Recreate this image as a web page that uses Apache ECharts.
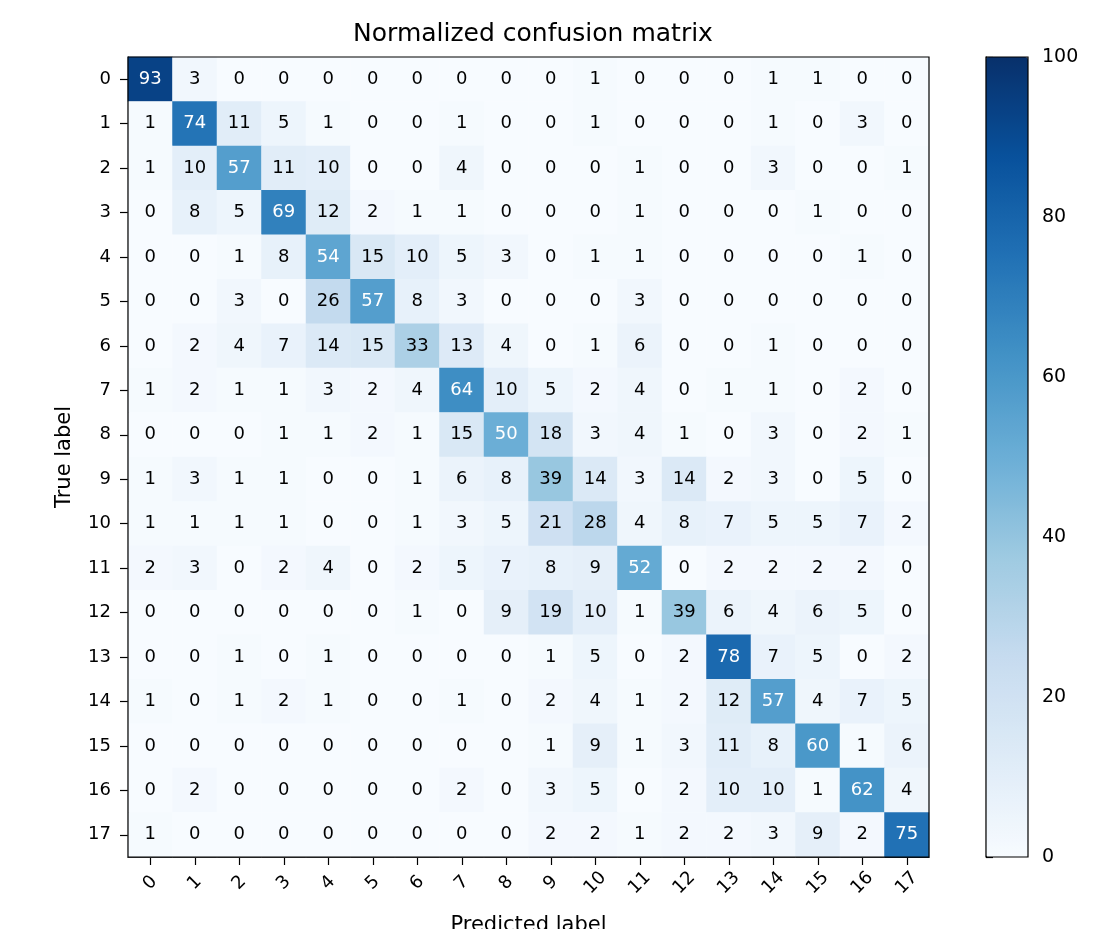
<!DOCTYPE html>
<html>
<head>
<meta charset="utf-8">
<script src="https://cdn.jsdelivr.net/npm/echarts@6/dist/echarts.min.js"></script>
<style>
    html, body { margin: 0; padding: 0; background: #fff; }
    #chart { width: 1106px; height: 929px; }
</style>
</head>
<body>
<div id="chart"></div>
<script>
(function () {
    "use strict";

    // ---- data ----
    const predictedLabels = ["0", "1", "2", "3", "4", "5", "6", "7", "8", "9", "10", "11", "12", "13", "14", "15", "16", "17"];
    const trueLabels = ["0", "1", "2", "3", "4", "5", "6", "7", "8", "9", "10", "11", "12", "13", "14", "15", "16", "17"];
    const matrix = [
        [93, 3, 0, 0, 0, 0, 0, 0, 0, 0, 1, 0, 0, 0, 1, 1, 0, 0],
        [1, 74, 11, 5, 1, 0, 0, 1, 0, 0, 1, 0, 0, 0, 1, 0, 3, 0],
        [1, 10, 57, 11, 10, 0, 0, 4, 0, 0, 0, 1, 0, 0, 3, 0, 0, 1],
        [0, 8, 5, 69, 12, 2, 1, 1, 0, 0, 0, 1, 0, 0, 0, 1, 0, 0],
        [0, 0, 1, 8, 54, 15, 10, 5, 3, 0, 1, 1, 0, 0, 0, 0, 1, 0],
        [0, 0, 3, 0, 26, 57, 8, 3, 0, 0, 0, 3, 0, 0, 0, 0, 0, 0],
        [0, 2, 4, 7, 14, 15, 33, 13, 4, 0, 1, 6, 0, 0, 1, 0, 0, 0],
        [1, 2, 1, 1, 3, 2, 4, 64, 10, 5, 2, 4, 0, 1, 1, 0, 2, 0],
        [0, 0, 0, 1, 1, 2, 1, 15, 50, 18, 3, 4, 1, 0, 3, 0, 2, 1],
        [1, 3, 1, 1, 0, 0, 1, 6, 8, 39, 14, 3, 14, 2, 3, 0, 5, 0],
        [1, 1, 1, 1, 0, 0, 1, 3, 5, 21, 28, 4, 8, 7, 5, 5, 7, 2],
        [2, 3, 0, 2, 4, 0, 2, 5, 7, 8, 9, 52, 0, 2, 2, 2, 2, 0],
        [0, 0, 0, 0, 0, 0, 1, 0, 9, 19, 10, 1, 39, 6, 4, 6, 5, 0],
        [0, 0, 1, 0, 1, 0, 0, 0, 0, 1, 5, 0, 2, 78, 7, 5, 0, 2],
        [1, 0, 1, 2, 1, 0, 0, 1, 0, 2, 4, 1, 2, 12, 57, 4, 7, 5],
        [0, 0, 0, 0, 0, 0, 0, 0, 0, 1, 9, 1, 3, 11, 8, 60, 1, 6],
        [0, 2, 0, 0, 0, 0, 0, 2, 0, 3, 5, 0, 2, 10, 10, 1, 62, 4],
        [1, 0, 0, 0, 0, 0, 0, 0, 0, 2, 2, 1, 2, 2, 3, 9, 2, 75]
    ];
    const colorbarTicks = [0, 20, 40, 60, 80, 100];
    const blues = ["#f7fbff", "#deebf7", "#c6dbef", "#9ecae1", "#6baed6", "#4292c6", "#2171b5", "#08519c", "#08306b"];

    const FONT = "DejaVu Sans";
    const el = document.getElementById("chart");
    const chart = echarts.init(el, null, { renderer: "canvas" });

    // text turns white above half of the largest cell (matplotlib habit)
    const maxVal = Math.max(...matrix.map(r => Math.max(...r)));
    const thresh = maxVal / 2;

    const cells = [];
    matrix.forEach((row, yi) => {
        row.forEach((v, xi) => {
            cells.push({
                value: [xi, yi, v],
                label: { color: v > thresh ? "#ffffff" : "#000000" }
            });
        });
    });

    const tickMin = colorbarTicks[0];
    const tickMax = colorbarTicks[colorbarTicks.length - 1];
    const tickStep = colorbarTicks[1] - colorbarTicks[0];
    const black = { color: "#000", width: 1.2 };

    chart.setOption({
        animation: false,
        backgroundColor: "#ffffff",
        textStyle: { fontFamily: FONT },
        title: {
            text: "Normalized confusion matrix",
            left: 528, top: 17, textAlign: "center",
            textStyle: { fontFamily: FONT, fontSize: 25, fontWeight: "normal", color: "#000" }
        },
        grid: [
            { left: 128, top: 57, width: 801, height: 800, outerBoundsMode: "none", containLabel: false, show: true, borderColor: "#000", borderWidth: 1.2, backgroundColor: "transparent", z: 5 },
            { left: 986, top: 57, width: 42, height: 800, outerBoundsMode: "none", containLabel: false, show: true, borderColor: "#000", borderWidth: 1.2, backgroundColor: "transparent", z: 5 }
        ],
        xAxis: [
            {
                type: "category", gridIndex: 0, data: predictedLabels, position: "bottom",
                name: "Predicted label", nameLocation: "middle", nameGap: 58,
                nameTextStyle: { fontFamily: FONT, fontSize: 21, color: "#000" },
                axisLine: { show: true, lineStyle: black },
                axisTick: { show: true, alignWithLabel: true, length: 8, lineStyle: black },
                axisLabel: { rotate: 45, align: "center", verticalAlign: "middle", margin: 26, fontFamily: FONT, fontSize: 18, color: "#000" },
                splitLine: { show: false }
            },
            { type: "value", gridIndex: 1, min: 0, max: 1, show: false }
        ],
        yAxis: [
            {
                type: "category", gridIndex: 0, data: trueLabels, inverse: true,
                name: "True label", nameLocation: "middle", nameGap: 53, nameRotate: 90,
                nameTextStyle: { fontFamily: FONT, fontSize: 21, color: "#000" },
                axisLine: { show: true, lineStyle: black },
                axisTick: { show: true, alignWithLabel: true, length: 8, lineStyle: black },
                axisLabel: { margin: 17, fontFamily: FONT, fontSize: 18, color: "#000" },
                splitLine: { show: false }
            },
            {
                type: "value", gridIndex: 1, position: "right",
                min: tickMin, max: tickMax, interval: tickStep,
                axisLine: { show: true, lineStyle: black },
                axisTick: { show: true, inside: false, length: 7, lineStyle: black },
                axisLabel: { margin: 14, fontFamily: FONT, fontSize: 19, color: "#000" },
                splitLine: { show: false }
            }
        ],
        visualMap: {
            type: "continuous",
            seriesIndex: 0,
            min: tickMin, max: tickMax,
            calculable: false,
            orient: "vertical",
            left: 986, top: 57,
            itemWidth: 42, itemHeight: 800,
            padding: 0,
            text: null,
            showLabel: false,
            hoverLink: false,
            inRange: { color: blues }
        },
        series: [
            {
                type: "heatmap",
                xAxisIndex: 0, yAxisIndex: 0,
                data: cells,
                label: { show: true, fontFamily: FONT, fontSize: 18, formatter: p => String(p.value[2]) },
                itemStyle: { borderWidth: 0 },
                emphasis: { disabled: true }
            },
            { type: "scatter", xAxisIndex: 1, yAxisIndex: 1, data: [], silent: true }
        ]
    });

    window.addEventListener("resize", () => chart.resize());
})();
</script>
</body>
</html>
